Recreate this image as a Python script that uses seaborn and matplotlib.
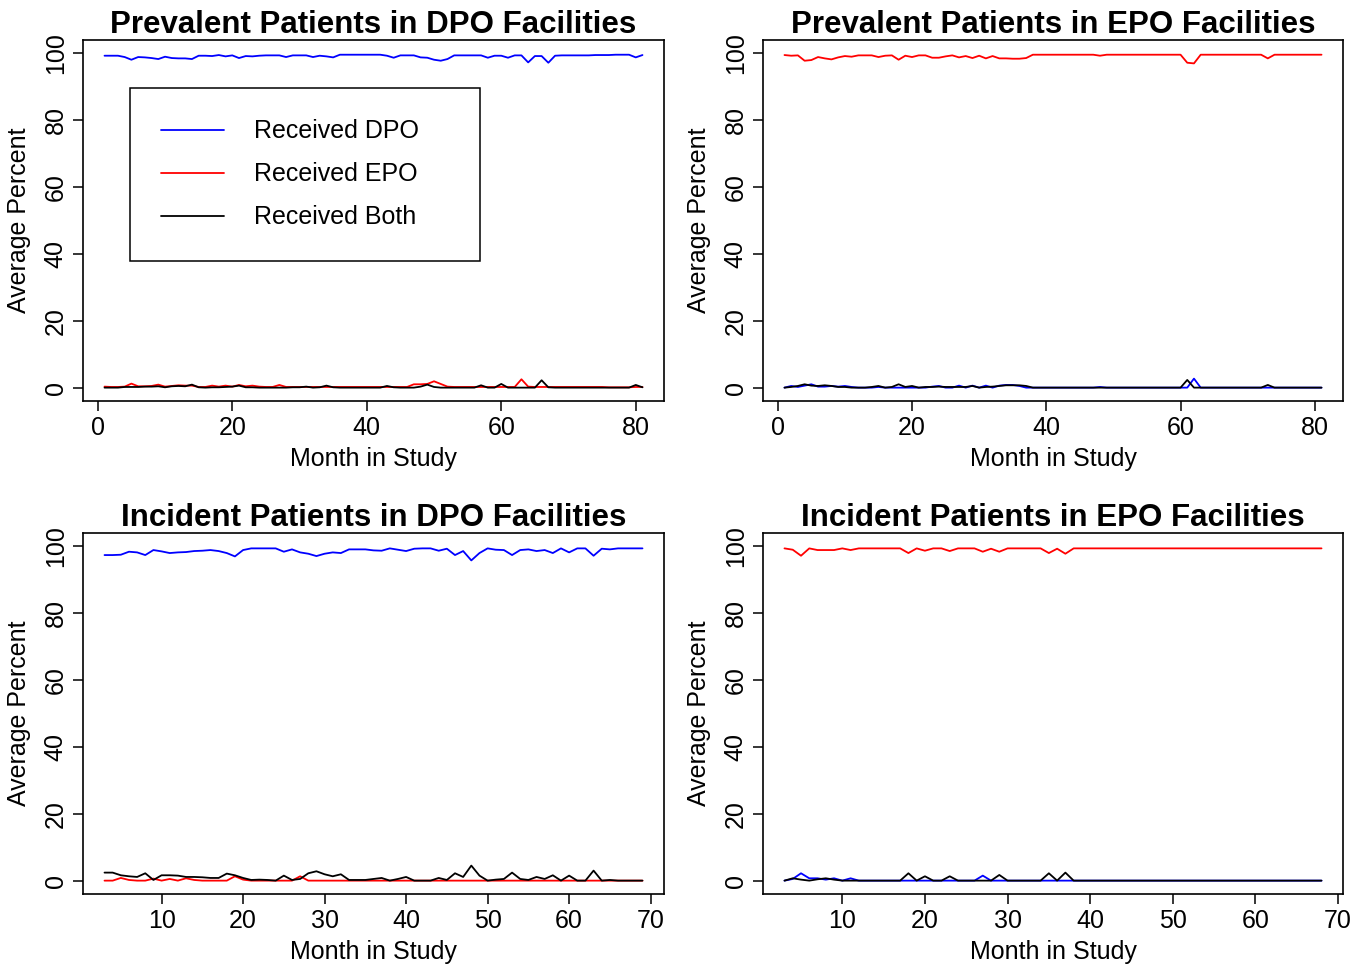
import matplotlib
matplotlib.use("Agg")
import matplotlib.pyplot as plt
from matplotlib.lines import Line2D
import seaborn as sns
import pandas as pd

# ---------------- data ----------------
months_prev = list(range(1, 82))
months_inc_dpo = list(range(3, 70))
months_inc_epo = list(range(3, 69))

prev_dpo_received_dpo = [
    99.3, 99.3, 99.3, 98.9, 98.1, 98.9, 98.8, 98.6, 98.3, 99.0,
    98.6, 98.5, 98.5, 98.3, 99.3, 99.3, 99.2, 99.5, 99.1, 99.4,
    98.6, 99.2, 99.1, 99.3, 99.4, 99.4, 99.4, 98.9, 99.4, 99.4,
    99.4, 98.9, 99.3, 99.1, 98.8, 99.6, 99.6, 99.6, 99.6, 99.6,
    99.6, 99.6, 99.3, 98.7, 99.4, 99.4, 99.4, 98.8, 98.7, 98.1,
    97.8, 98.3, 99.4, 99.4, 99.4, 99.4, 99.4, 98.7, 99.3, 99.3,
    98.7, 99.4, 99.4, 97.3, 99.2, 99.2, 97.2, 99.3, 99.4, 99.4,
    99.4, 99.4, 99.4, 99.5, 99.5, 99.5, 99.6, 99.6, 99.6, 98.8,
    99.5]
prev_dpo_received_epo = [
    0.3, 0.2, 0.2, 0.3, 1.2, 0.4, 0.4, 0.5, 0.9, 0.3,
    0.5, 0.7, 0.6, 0.6, 0.2, 0.2, 0.6, 0.3, 0.6, 0.3,
    0.8, 0.4, 0.6, 0.3, 0.2, 0.2, 0.8, 0.2, 0.2, 0.2,
    0.2, 0.2, 0.2, 0.2, 0.2, 0.2, 0.2, 0.2, 0.2, 0.2,
    0.2, 0.2, 0.2, 0.2, 0.2, 0.2, 1.0, 1.0, 1.1, 1.9,
    1.1, 0.3, 0.2, 0.2, 0.2, 0.2, 0.2, 0.2, 0.2, 0.2,
    0.2, 0.2, 2.5, 0.3, 0.2, 0.2, 0.2, 0.2, 0.2, 0.2,
    0.2, 0.2, 0.2, 0.2, 0.2, 0.1, 0.1, 0.1, 0.1, 0.2,
    0.2]
prev_dpo_received_both = [
    0.0, 0.0, 0.0, 0.2, 0.2, 0.2, 0.3, 0.3, 0.4, 0.1,
    0.4, 0.5, 0.4, 0.9, 0.1, 0.0, 0.1, 0.1, 0.2, 0.3,
    0.6, 0.1, 0.1, 0.0, 0.0, 0.0, 0.0, 0.0, 0.1, 0.1,
    0.3, 0.0, 0.1, 0.6, 0.1, 0.0, 0.0, 0.0, 0.0, 0.0,
    0.0, 0.0, 0.5, 0.1, 0.0, 0.0, 0.0, 0.3, 0.9, 0.2,
    0.0, 0.0, 0.0, 0.0, 0.0, 0.0, 0.7, 0.0, 0.0, 1.1,
    0.0, 0.0, 0.0, 0.0, 0.0, 2.2, 0.1, 0.0, 0.0, 0.0,
    0.0, 0.0, 0.0, 0.0, 0.0, 0.0, 0.0, 0.0, 0.0, 0.8,
    0.1]

prev_epo_received_dpo = [
    0.0, 0.5, 0.2, 0.6, 1.0, 0.3, 0.3, 0.5, 0.3, 0.5,
    0.2, 0.0, 0.0, 0.0, 0.2, 0.0, 0.0, 0.0, 0.0, 0.0,
    0.0, 0.0, 0.3, 0.5, 0.0, 0.0, 0.6, 0.0, 0.6, 0.0,
    0.6, 0.0, 0.6, 0.8, 0.8, 0.5, 0.0, 0.0, 0.0, 0.0,
    0.0, 0.0, 0.0, 0.0, 0.0, 0.0, 0.0, 0.2, 0.0, 0.0,
    0.0, 0.0, 0.0, 0.0, 0.0, 0.0, 0.0, 0.0, 0.0, 0.0,
    0.0, 2.7, 0.0, 0.0, 0.0, 0.0, 0.0, 0.0, 0.0, 0.0,
    0.0, 0.0, 0.0, 0.0, 0.0, 0.0, 0.0, 0.0, 0.0, 0.0,
    0.0]
prev_epo_received_epo = [
    99.5, 99.3, 99.4, 97.8, 98.0, 98.9, 98.5, 98.2, 98.8, 99.2,
    99.0, 99.4, 99.4, 99.4, 98.9, 99.3, 99.4, 98.1, 99.3, 98.9,
    99.4, 99.4, 98.7, 98.7, 99.1, 99.4, 98.8, 99.2, 98.6, 99.3,
    98.5, 99.2, 98.5, 98.5, 98.4, 98.4, 98.6, 99.6, 99.6, 99.6,
    99.6, 99.6, 99.6, 99.6, 99.6, 99.6, 99.6, 99.3, 99.6, 99.6,
    99.6, 99.6, 99.6, 99.6, 99.6, 99.6, 99.6, 99.6, 99.6, 99.6,
    97.2, 97.0, 99.6, 99.6, 99.6, 99.6, 99.6, 99.6, 99.6, 99.6,
    99.6, 99.6, 98.5, 99.6, 99.6, 99.6, 99.6, 99.6, 99.6, 99.6,
    99.6]
prev_epo_received_both = [
    0.0, 0.2, 0.5, 1.0, 0.6, 0.5, 0.7, 0.5, 0.2, 0.2,
    0.0, 0.0, 0.0, 0.2, 0.5, 0.0, 0.2, 1.0, 0.2, 0.5,
    0.0, 0.2, 0.2, 0.3, 0.2, 0.2, 0.2, 0.2, 0.5, 0.0,
    0.2, 0.3, 0.5, 0.7, 0.7, 0.7, 0.5, 0.0, 0.0, 0.0,
    0.0, 0.0, 0.0, 0.0, 0.0, 0.0, 0.0, 0.0, 0.0, 0.0,
    0.0, 0.0, 0.0, 0.0, 0.0, 0.0, 0.0, 0.0, 0.0, 0.0,
    2.3, 0.0, 0.0, 0.0, 0.0, 0.0, 0.0, 0.0, 0.0, 0.0,
    0.0, 0.0, 0.8, 0.0, 0.0, 0.0, 0.0, 0.0, 0.0, 0.0,
    0.0]

inc_dpo_received_dpo = [
    97.4, 97.4, 97.5, 98.4, 98.2, 97.4, 98.9, 98.5, 98.0, 98.2,
    98.3, 98.6, 98.7, 98.9, 98.6, 98.0, 97.0, 98.9, 99.4, 99.4,
    99.4, 99.4, 98.4, 99.1, 98.2, 97.8, 97.1, 97.8, 98.2, 98.0,
    99.1, 99.1, 99.1, 98.8, 98.7, 99.4, 99.0, 98.6, 99.3, 99.4,
    99.4, 98.7, 99.3, 97.4, 98.6, 95.8, 98.0, 99.4, 99.0, 98.9,
    97.4, 98.9, 99.1, 98.6, 98.9, 98.0, 99.4, 98.2, 99.4, 99.4,
    97.2, 99.3, 99.1, 99.4, 99.4, 99.4, 99.4]
inc_dpo_received_epo = [
    0.0, 0.0, 0.8, 0.2, 0.0, 0.0, 0.6, 0.0, 0.5, 0.0,
    0.7, 0.2, 0.0, 0.0, 0.0, 0.0, 1.3, 0.3, 0.0, 0.0,
    0.0, 0.0, 0.0, 0.0, 1.3, 0.0, 0.0, 0.0, 0.0, 0.0,
    0.0, 0.0, 0.0, 0.0, 0.0, 0.0, 0.0, 0.0, 0.0, 0.0,
    0.0, 0.0, 0.0, 0.0, 0.0, 0.0, 0.0, 0.0, 0.0, 0.0,
    0.0, 0.0, 0.0, 0.0, 0.0, 0.0, 0.0, 0.0, 0.0, 0.0,
    0.0, 0.0, 0.0, 0.0, 0.0, 0.0, 0.0]
inc_dpo_received_both = [
    2.4, 2.4, 1.6, 1.3, 1.1, 2.2, 0.2, 1.6, 1.6, 1.5,
    1.1, 1.1, 1.0, 0.8, 0.8, 2.1, 1.6, 0.8, 0.2, 0.3,
    0.2, 0.0, 1.5, 0.2, 0.5, 2.2, 2.8, 1.9, 1.3, 1.9,
    0.2, 0.2, 0.2, 0.5, 0.8, 0.0, 0.5, 1.1, 0.0, 0.0,
    0.0, 0.8, 0.2, 2.2, 1.1, 4.5, 1.5, 0.0, 0.3, 0.5,
    2.4, 0.5, 0.2, 1.1, 0.5, 1.6, 0.0, 1.5, 0.0, 0.0,
    3.0, 0.0, 0.2, 0.0, 0.0, 0.0, 0.0]

inc_epo_received_dpo = [
    0.0, 0.5, 2.2, 0.7, 0.7, 0.3, 0.7, 0.0, 0.7, 0.0,
    0.0, 0.0, 0.0, 0.0, 0.0, 0.0, 0.0, 0.0, 0.0, 0.0,
    0.0, 0.0, 0.0, 0.0, 1.5, 0.0, 0.0, 0.0, 0.0, 0.0,
    0.0, 0.0, 0.0, 0.0, 0.0, 0.0, 0.0, 0.0, 0.0, 0.0,
    0.0, 0.0, 0.0, 0.0, 0.0, 0.0, 0.0, 0.0, 0.0, 0.0,
    0.0, 0.0, 0.0, 0.0, 0.0, 0.0, 0.0, 0.0, 0.0, 0.0,
    0.0, 0.0, 0.0, 0.0, 0.0, 0.0]
inc_epo_received_epo = [
    99.4, 99.0, 97.2, 99.4, 98.9, 98.9, 98.9, 99.4, 98.9, 99.4,
    99.4, 99.4, 99.4, 99.4, 99.4, 98.0, 99.4, 98.7, 99.4, 99.4,
    98.6, 99.4, 99.4, 99.4, 98.4, 99.3, 98.4, 99.4, 99.4, 99.4,
    99.4, 99.4, 98.0, 99.3, 97.8, 99.4, 99.4, 99.4, 99.4, 99.4,
    99.4, 99.4, 99.4, 99.4, 99.4, 99.4, 99.4, 99.4, 99.4, 99.4,
    99.4, 99.4, 99.4, 99.4, 99.4, 99.4, 99.4, 99.4, 99.4, 99.4,
    99.4, 99.4, 99.4, 99.4, 99.4, 99.4]
inc_epo_received_both = [
    0.0, 0.7, 0.3, 0.0, 0.4, 0.7, 0.3, 0.0, 0.0, 0.0,
    0.0, 0.0, 0.0, 0.0, 0.0, 2.2, 0.0, 1.3, 0.0, 0.0,
    1.3, 0.0, 0.0, 0.0, 0.0, 0.0, 1.7, 0.0, 0.0, 0.0,
    0.0, 0.0, 2.2, 0.0, 2.4, 0.0, 0.0, 0.0, 0.0, 0.0,
    0.0, 0.0, 0.0, 0.0, 0.0, 0.0, 0.0, 0.0, 0.0, 0.0,
    0.0, 0.0, 0.0, 0.0, 0.0, 0.0, 0.0, 0.0, 0.0, 0.0,
    0.0, 0.0, 0.0, 0.0, 0.0, 0.0]

titles = ["Prevalent Patients in DPO Facilities",
          "Prevalent Patients in EPO Facilities",
          "Incident Patients in DPO Facilities",
          "Incident Patients in EPO Facilities"]
series_names = ["Received DPO", "Received EPO", "Received Both"]
colors = {"Received DPO": "#0000FF", "Received EPO": "#FF0000", "Received Both": "#000000"}
prev_xticks = [0, 20, 40, 60, 80]
inc_xticks = [10, 20, 30, 40, 50, 60, 70]
yticks = [0, 20, 40, 60, 80, 100]

# ---------------- style ----------------
sns.set_style("ticks")
plt.rcParams["font.family"] = ["Liberation Sans", "DejaVu Sans"]
plt.rcParams["axes.linewidth"] = 1.2
plt.rcParams["axes.edgecolor"] = "black"
plt.rcParams["text.color"] = "black"
plt.rcParams["axes.labelcolor"] = "black"
plt.rcParams["xtick.color"] = "black"
plt.rcParams["ytick.color"] = "black"

W, H = 1368, 971
fig = plt.figure(figsize=(W / 100, H / 100), dpi=100)
fig.patch.set_facecolor("white")

def box(l, t, r, b):
    return [l / W, 1 - b / H, (r - l) / W, (b - t) / H]

panels = [
    (box(83, 40, 664, 401), months_prev,
     [prev_dpo_received_dpo, prev_dpo_received_epo, prev_dpo_received_both], prev_xticks),
    (box(763, 40, 1343, 401), months_prev,
     [prev_epo_received_dpo, prev_epo_received_epo, prev_epo_received_both], prev_xticks),
    (box(83, 533, 664, 894), months_inc_dpo,
     [inc_dpo_received_dpo, inc_dpo_received_epo, inc_dpo_received_both], inc_xticks),
    (box(763, 533, 1343, 894), months_inc_epo,
     [inc_epo_received_dpo, inc_epo_received_epo, inc_epo_received_both], inc_xticks),
]

axes = []
for i, (rect, months, vals, xt) in enumerate(panels):
    ax = fig.add_axes(rect)
    axes.append(ax)
    frames = []
    for name, v in zip(series_names, vals):
        frames.append(pd.DataFrame({"month": months, "pct": v, "series": name}))
    df = pd.concat(frames, ignore_index=True)
    for name in series_names:
        sub = df[df["series"] == name]
        sns.lineplot(data=sub, x="month", y="pct", color=colors[name],
                     linewidth=1.3, ax=ax, legend=False, estimator=None)
    span = months[-1] - months[0]
    ax.set_xlim(months[0] - 0.04 * span, months[-1] + 0.04 * span)
    ax.set_ylim(-4, 104)
    ax.set_xticks(xt)
    ax.set_yticks(yticks)
    ax.set_yticklabels([str(y) for y in yticks], rotation=90, va="center")
    ax.tick_params(axis="both", direction="out", length=7, width=1.1,
                   labelsize=18, color="black", labelcolor="black")
    ax.tick_params(axis="x", pad=4)
    ax.tick_params(axis="y", pad=4)
    for s in ax.spines.values():
        s.set_visible(True)
        s.set_linewidth(1.2)
        s.set_color("black")
    ax.set_xlabel("Month in Study", fontsize=18, labelpad=5, color="black")
    ax.set_ylabel("Average Percent", fontsize=18, labelpad=9, color="black")
    ax.set_title(titles[i], fontsize=22.5, fontweight="bold", pad=5, color="black")
    ax.grid(False)

handles = [Line2D([0], [0], color=colors[n], lw=1.3) for n in series_names]
leg = axes[0].legend(handles, series_names, loc="upper left",
                     bbox_to_anchor=(0.0809, 0.867, 0.602, 0.0), mode="expand",
                     fontsize=18, frameon=True, fancybox=False, edgecolor="black",
                     framealpha=1, handlelength=2.5, handletextpad=1.2,
                     borderpad=1.25, labelspacing=0.76, borderaxespad=0)
leg.get_frame().set_linewidth(1.1)
for t in leg.get_texts():
    t.set_color("black")

fig.savefig("out.png", dpi=100, facecolor="white")
